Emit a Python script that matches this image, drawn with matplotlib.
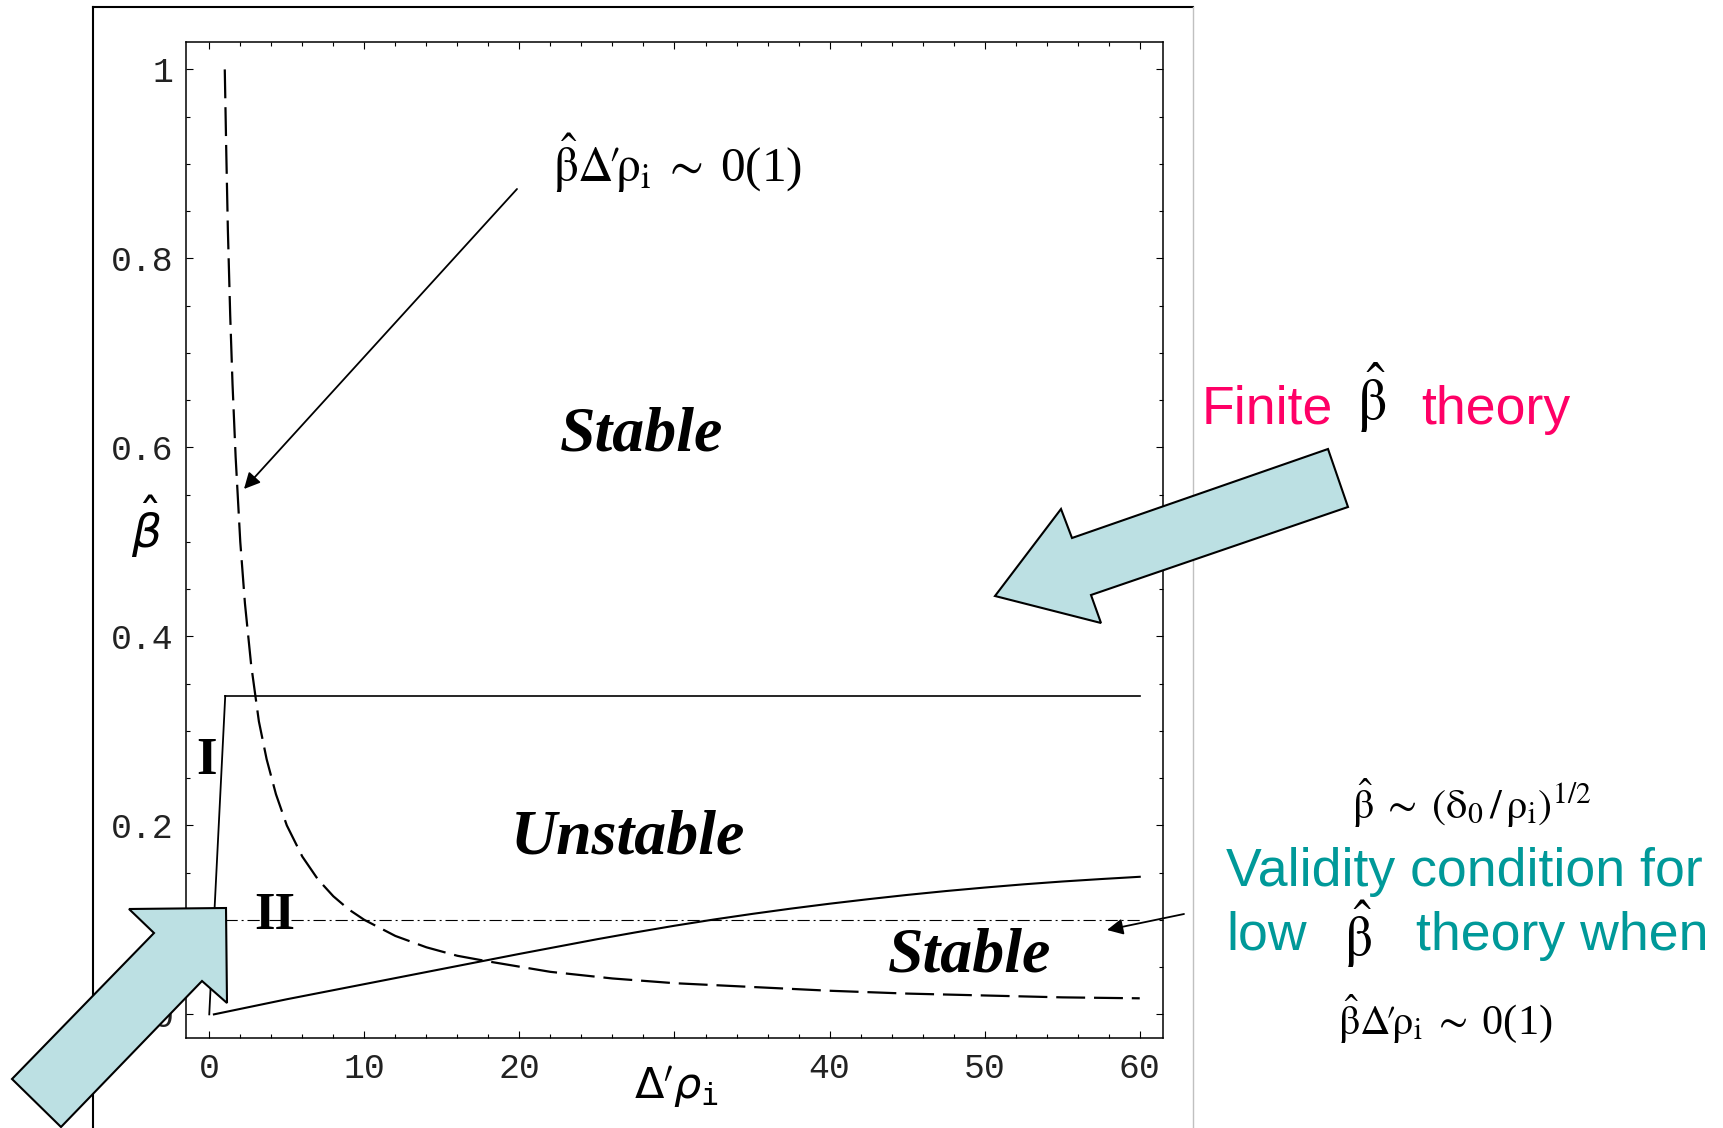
import numpy as np
import matplotlib
matplotlib.use("Agg")
import matplotlib.pyplot as plt
from matplotlib.lines import Line2D
from matplotlib.patches import Polygon

# ---- data ----
# dashed curve  (beta * Delta' rho_i ~ 1)
dash_x = [1.0, 1.1, 1.2, 1.35, 1.5, 1.7, 2.0, 2.3, 2.7, 3.2, 3.7, 4.3, 5, 6, 7, 8,
          9, 10, 12, 14, 16, 18, 22, 26, 30, 35, 40, 45, 50, 55, 60]
dash_y = [1.0, 0.91, 0.83, 0.74, 0.667, 0.59, 0.5, 0.435, 0.37, 0.31, 0.27, 0.233,
          0.2, 0.167, 0.143, 0.125, 0.111, 0.1, 0.083, 0.071, 0.062, 0.056, 0.045,
          0.038, 0.033, 0.029, 0.025, 0.022, 0.02, 0.018, 0.017]
# steep solid line (region I boundary) and the flat solid line
steep_x = [0.0, 1.03]
steep_y = [0.0, 0.337]
flat_x = [1.03, 60]
flat_y = [0.337, 0.337]
# lower solid curve
low_x = [0.3, 5, 10, 15, 20, 25, 27.5, 30, 32.5, 35, 37.5, 40, 42.5, 45, 47.5,
         50, 52.5, 55, 57.5, 60]
low_y = [0.0, 0.016, 0.032, 0.048, 0.064, 0.0795, 0.0868, 0.0938, 0.1003, 0.1063,
         0.1119, 0.1171, 0.1219, 0.1264, 0.1305, 0.1342, 0.1376, 0.1406, 0.1432,
         0.1456]
# dash-dot validity line
dd_x = [1.0, 60]
dd_y = [0.1, 0.1]

xticks = [0, 10, 20, 30, 40, 50, 60]
xtick_labels = ["0", "10", "20", "", "40", "50", "60"]
yticks = [0, 0.2, 0.4, 0.6, 0.8, 1.0]
ytick_labels = ["0", "0.2", "0.4", "0.6", "0.8", "1"]

W, H = 1724, 1128


def fx(x):
    return x / W


def fy(y):
    return 1 - y / H


def pts(seq):
    return [(fx(a), fy(b)) for a, b in seq]


fig = plt.figure(figsize=(W / 100, H / 100), dpi=100)
ax = fig.add_axes([186 / W, 1 - 1038 / H, (1163 - 186) / W, (1038 - 42) / H])

ax.plot(dash_x, dash_y, color="black", lw=1.6, dashes=(13, 4))
ax.plot(steep_x, steep_y, color="black", lw=1.3)
ax.plot(flat_x, flat_y, color="black", lw=1.2)
ax.plot(low_x, low_y, color="black", lw=1.5)
ax.plot(dd_x, dd_y, color="black", lw=0.8, dashes=(11, 3.5, 1.8, 3.5))

ax.set_xlim(-1.5, 61.5)
ax.set_ylim(-0.025, 1.029)
ax.set_xticks(xticks)
ax.set_xticklabels(xtick_labels)
ax.set_xticks(np.arange(0, 61, 2), minor=True)
ax.set_yticks(yticks)
ax.set_yticklabels(ytick_labels)
ax.set_yticks(np.arange(0, 1.01, 0.05), minor=True)
ax.tick_params(which="both", direction="in", top=True, right=True, width=0.8,
               labelsize=25, colors="black")
ax.tick_params(which="major", length=5)
ax.tick_params(which="minor", length=3)
ax.tick_params(axis="y", pad=9)
ax.tick_params(axis="x", pad=10)
for lab in ax.get_xticklabels() + ax.get_yticklabels():
    lab.set_family("Liberation Mono")
    lab.set_color("#222222")
for sp in ax.spines.values():
    sp.set_linewidth(1.1)

ax.set_ylabel(r"$\hat{\beta}$", fontsize=34, rotation=0, ha="center", va="center")
ax.yaxis.set_label_coords(-0.041, 0.513)
ax.set_xlabel(r"$\Delta'\rho_{\mathtt{i}}$", fontsize=31, ha="center", va="center")
ax.xaxis.set_label_coords(0.5015, -0.049)

region_font = dict(family="Liberation Serif", weight="bold", style="italic", fontsize=46)
ax.text(27.9, 0.597, "Stable", ha="center", va="baseline", **region_font)
ax.text(27.0, 0.170, "Unstable", ha="center", va="baseline", **region_font)
ax.text(49.0, 0.0455, "Stable", ha="center", va="baseline", **region_font)
ax.text(-0.2, 0.268, "I", ha="center", va="center", family="Liberation Serif",
        weight="bold", fontsize=38)
ax.text(4.2, 0.104, "II", ha="center", va="center", family="Liberation Serif",
        weight="bold", fontsize=38)

# outer slide frame
fig.add_artist(Line2D([fx(93), fx(93)], [fy(7), fy(1128)], color="black", lw=1.5))
fig.add_artist(Line2D([fx(93), fx(1193)], [fy(7), fy(7)], color="black", lw=1.5))
fig.add_artist(Line2D([fx(1193), fx(1193)], [fy(7), fy(1128)], color="#c0c0c0", lw=1))

# formulas
f_top = (r"$\hat{\mathrm{\beta}}\mathrm{\Delta}\!\prime\!\mathrm{\rho}_{\mathrm{i}}"
         r"\;\sim\;$0(1)")
fig.text(fx(553), fy(182), f_top, ha="left", va="baseline", fontsize=35.5,
         family="Liberation Serif", math_fontfamily="stix")
fig.text(fx(1338), fy(1034), f_top, ha="left", va="baseline", fontsize=30.5,
         family="Liberation Serif", math_fontfamily="stix")
f_mid = (r"$\hat{\mathrm{\beta}}\;\sim\;(\mathrm{\delta}_0\,/\,\mathrm{\rho}_{\mathrm{i}})"
         r"^{1/2}$")
fig.text(fx(1352), fy(819), f_mid, ha="left", va="baseline", fontsize=30.5,
         family="Liberation Serif", math_fontfamily="stix")

pink = "#ff0066"
teal = "#009999"
fs_txt = 38.6
fig.text(fx(1202), fy(424), "Finite", color=pink, fontsize=fs_txt,
         family="Liberation Sans", ha="left", va="baseline")
fig.text(fx(1357), fy(420), r"$\hat{\mathrm{\beta}}$", color="black", fontsize=42,
         math_fontfamily="stix", ha="left", va="baseline")
fig.text(fx(1421), fy(424), "theory", color=pink, fontsize=fs_txt,
         family="Liberation Sans", ha="left", va="baseline")

fig.text(fx(1226), fy(886), "Validity condition for", color=teal, fontsize=fs_txt,
         family="Liberation Sans", ha="left", va="baseline")
fig.text(fx(1226), fy(950), "low", color=teal, fontsize=fs_txt,
         family="Liberation Sans", ha="left", va="baseline")
fig.text(fx(1344), fy(956), r"$\hat{\mathrm{\beta}}$", color="black", fontsize=40,
         math_fontfamily="stix", ha="left", va="baseline")
fig.text(fx(1416), fy(950), "theory when", color=teal, fontsize=fs_txt,
         family="Liberation Sans", ha="left", va="baseline")

# thin pointer arrows
for tail, tip in [((517, 189), (244, 489)), ((1184, 914), (1107, 930))]:
    ax.annotate("", xy=(fx(tip[0]), fy(tip[1])), xycoords="figure fraction",
                xytext=(fx(tail[0]), fy(tail[1])), textcoords="figure fraction",
                arrowprops=dict(arrowstyle="-|>", color="black", lw=1.3,
                                mutation_scale=24, shrinkA=0, shrinkB=0))

# big block arrows
blue = "#bce0e3"
upper_arrow = [(995, 596), (1061, 509), (1072, 538), (1328, 449), (1348, 507),
               (1091, 595), (1101, 623)]
lower_arrow = [(226, 908), (227, 1003), (202, 981), (61, 1127), (12, 1079),
               (154, 933), (129, 909)]
for shape in (upper_arrow, lower_arrow):
    fig.add_artist(Polygon(pts(shape), closed=True, transform=fig.transFigure,
                           facecolor=blue, edgecolor="black", lw=1.5, zorder=10))

fig.savefig("out.png", dpi=100)
